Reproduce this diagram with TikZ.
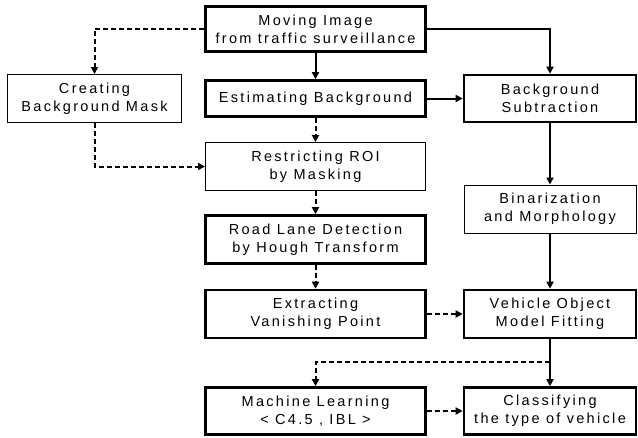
\documentclass[tikz,border=0pt]{standalone}
\usepackage{fontspec}
\setmainfont{Liberation Sans}[LetterSpace=16]
\usetikzlibrary{positioning, arrows.meta, calc}

\begin{document}
\begin{tikzpicture}[
    x=1pt, y=-1pt,
    % Style definitions
    box/.style={
        rectangle, draw=black, fill=white, line width=1pt,
        font=\fontsize{14.5}{18}\selectfont, align=center,
        inner sep=0pt
    },
    thickbox/.style={
        box, line width=2.6pt
    },
    colL/.style={minimum width=220pt},
    colR/.style={minimum width=172pt},
    flow/.style={
        -{Triangle[length=7pt, width=7pt]}, line width=2pt
    },
    dflow/.style={
        flow, dash pattern=on 5pt off 3pt
    },
]

% Frame of the picture
\useasboundingbox (0,0) rectangle (638,437);

% Column positions
\def\colM{94.5}
\def\colA{315.5}
\def\colB{550}

% === Left column ===
\node[thickbox, colL, minimum height=45pt] (img) at (\colA, 29) {Moving Image\\from traffic surveillance};
\node[thickbox, colL, minimum height=36pt] (est) at (\colA, 98.5) {Estimating Background};
\node[box, colL, minimum height=48pt] (roi) at (\colA, 166.5) {Restricting ROI\\by Masking};
\node[thickbox, colL, minimum height=48pt] (lane) at (\colA, 239.5) {Road Lane Detection\\by Hough Transform};
\node[thickbox, colL, minimum height=48pt] (vp) at (\colA, 314) {Extracting\\Vanishing Point};
\node[thickbox, colL, minimum height=47pt] (ml) at (\colA, 411) {Machine Learning\\\textless{} C4.5 , IBL \textgreater};

% === Mask box ===
\node[box, minimum width=174pt, minimum height=48pt] (mask) at (\colM, 98.5) {Creating\\Background Mask};

% === Right column ===
\node[thickbox, colR, minimum height=47pt] (sub) at (\colB, 98.5) {Background\\Subtraction};
\node[box, colR, minimum height=48pt] (bin) at (\colB, 209) {Binarization\\and Morphology};
\node[thickbox, colR, minimum height=48pt] (fit) at (\colB, 314) {Vehicle Object\\Model Fitting};
\node[thickbox, colR, minimum height=47pt] (cls) at (\colB, 411) {Classifying\\the type of vehicle};

% === Connectors ===
\draw[dflow] (img.west) -| (mask.north);
\draw[flow] (img) -- (est);
\draw[flow] (img.east) -| (sub.north);
\draw[flow] (est) -- (sub);
\draw[dflow] (est) -- (roi);
\draw[dflow] (mask.south) |- (roi.west);
\draw[dflow] (roi) -- (lane);
\draw[dflow] (lane) -- (vp);
\draw[flow] (sub) -- (bin);
\draw[flow] (bin) -- (fit);
\draw[dflow] (vp) -- (fit);
\draw[flow] (fit) -- (cls);
\coordinate (split) at (\colB, 362);
\draw[dflow] (split) -| (ml.north);
\draw[dflow] (ml) -- (cls);

\end{tikzpicture}
\end{document}
